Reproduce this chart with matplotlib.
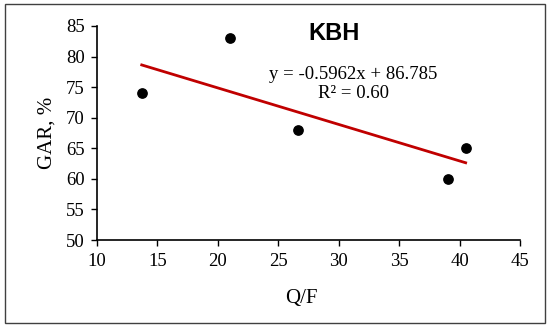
import numpy as np
import matplotlib.pyplot as plt
from matplotlib.patches import Rectangle

# data
qf = [13.7, 21.0, 26.6, 39.0, 40.5]
gar = [74, 83, 68, 60, 65]
xticks = [10, 15, 20, 25, 30, 35, 40, 45]
yticks = [50, 55, 60, 65, 70, 75, 80, 85]

plt.rcParams['font.family'] = 'Liberation Serif'

fig = plt.figure(figsize=(5.5, 3.27), dpi=100)
ax = fig.add_axes([0.1764, 0.266, 0.7691, 0.6545])

# outer chart border
fig.patches.append(Rectangle((0.009, 0.012), 0.982, 0.976, transform=fig.transFigure,
                             fill=False, edgecolor='#404040', linewidth=1.0))

ax.scatter(qf, gar, s=45, color='black', zorder=3)

# linear trendline
slope, intercept = np.polyfit(qf, gar, 1)
xl = np.array([min(qf), max(qf)])
ax.plot(xl, slope * xl + intercept, color='#c00000', linewidth=2)

ax.set_xlim(10, 45)
ax.set_ylim(50, 85)
ax.set_xticks(xticks)
ax.set_yticks(yticks)
ax.tick_params(labelsize=13.5, direction='out', length=4, width=1, colors='black', pad=5)
for s in ['top', 'right']:
    ax.spines[s].set_visible(False)
for s in ['left', 'bottom']:
    ax.spines[s].set_linewidth(1.2)

fig.text(301 / 550, 1 - 298 / 327, 'Q/F', fontsize=15, ha='center', va='center')
fig.text(47 / 550, 1 - 133 / 327, 'GAR, %', fontsize=15, ha='center', va='center',
         rotation=90)

fig.text(334 / 550, 1 - 33 / 327, 'KBH', fontsize=17, fontweight='bold',
         family='Liberation Sans', ha='center', va='center')
fig.text(353 / 550, 1 - 84 / 327, 'y = -0.5962x + 86.785\nR² = 0.60', fontsize=13.5,
         ha='center', va='center', linespacing=1.15)

fig.savefig('out.png', dpi=100)
